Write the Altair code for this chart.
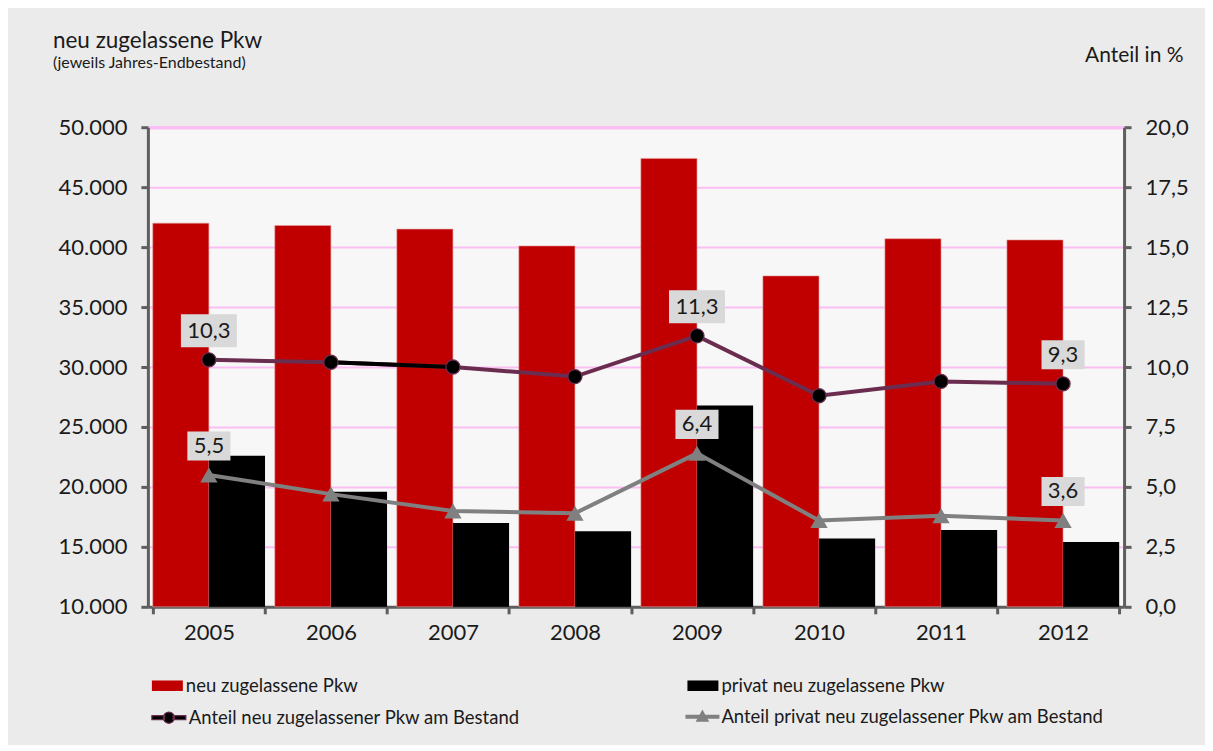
import altair as alt
import pandas as pd

FONT = "Lato"
TXT = "#1a1a1a"

years = ["2005", "2006", "2007", "2008", "2009", "2010", "2011", "2012"]
neu_pkw = [42000, 41800, 41500, 40100, 47400, 37600, 40700, 40600]
privat_pkw = [22600, 19600, 17000, 16300, 26800, 15700, 16400, 15400]
anteil_neu = [10.3, 10.2, 10.0, 9.6, 11.3, 8.8, 9.4, 9.3]
anteil_privat = [5.5, 4.7, 4.0, 3.9, 6.4, 3.6, 3.8, 3.6]
label_years = ["2005", "2009", "2012"]
black_segment_years = ["2006", "2007"]

S1 = "neu zugelassene Pkw"
S2 = "privat neu zugelassene Pkw"
S3 = "Anteil neu zugelassener Pkw am Bestand"
S4 = "Anteil privat neu zugelassener Pkw am Bestand"

bars = pd.DataFrame({
    "year": years * 2,
    "series": [S1] * len(years) + [S2] * len(years),
    "value": neu_pkw + privat_pkw,
})
lines = pd.DataFrame({
    "year": years * 2,
    "series": [S3] * len(years) + [S4] * len(years),
    "value": anteil_neu + anteil_privat,
})

AX_COL = "#5e5e5e"

x_enc = alt.X(
    "year:N",
    scale=alt.Scale(domain=years, paddingInner=0.08, paddingOuter=0.04),
    axis=alt.Axis(
        title=None, labelAngle=0, tickBand="extent", labelFont=FONT,
        labelFontSize=22, labelColor=TXT, labelPadding=9,
        domainColor=AX_COL, domainWidth=3, tickColor=AX_COL, tickWidth=3,
        tickSize=7, grid=False,
    ),
)

y_left = alt.Y(
    "value:Q",
    scale=alt.Scale(domain=[10000, 50000], nice=False, zero=False),
    axis=alt.Axis(
        title=None,
        values=[10000, 15000, 20000, 25000, 30000, 35000, 40000, 45000, 50000],
        labelExpr="replace(format(datum.value, ','), ',', '.')",
        labelFont=FONT, labelFontSize=22, labelColor=TXT, labelPadding=14,
        domainColor=AX_COL, domainWidth=3, tickColor=AX_COL, tickWidth=3,
        tickSize=7, grid=True, gridColor="#fcbff5",
        gridWidth={"condition": {"test": "datum.value == 50000", "value": 3.5}, "value": 2},
    ),
)

y_right = alt.Y(
    "value:Q",
    scale=alt.Scale(domain=[0, 20], nice=False, zero=True),
    axis=alt.Axis(
        orient="right",
        values=[0, 2.5, 5, 7.5, 10, 12.5, 15, 17.5, 20],
        labelExpr="replace(format(datum.value, '.1f'), '.', ',')",
        labelFont=FONT, labelFontSize=22, labelColor=TXT, labelPadding=14,
        domainColor=AX_COL, domainWidth=3, tickColor=AX_COL, tickWidth=3,
        tickSize=7, grid=False,
        title="Anteil in %", titleAngle=0, titleAlign="right",
        titleBaseline="alphabetic", titleX=59, titleY=-66,
        titleFont=FONT, titleFontSize=21, titleFontWeight="normal",
        titleColor=TXT,
    ),
)


def legend(x, y, sym, size, offset=3, stroke=None, sw=0):
    kw = dict(
        title=None, orient="none", legendX=x, legendY=y, symbolType=sym,
        symbolSize=size, labelFont=FONT, labelFontSize=18.5, labelColor=TXT,
        labelOffset=offset, padding=0, labelLimit=600,
        symbolStrokeWidth=sw, symbolOpacity=1,
    )
    if stroke:
        kw["symbolStrokeColor"] = stroke
    return alt.Legend(**kw)


BAR_SYM = "M-1,-0.34H1V0.34H-1Z"
CIRC_SYM = ("M-1,-0.12H-0.25V0.12H-1Z M0.25,-0.12H1V0.12H0.25Z "
            "M-0.33,0A0.33,0.33 0 1,1 0.33,0A0.33,0.33 0 1,1 -0.33,0Z")
TRI_SYM = "M-1,-0.12H1V0.12H-1Z M0,-0.42L0.4,0.3H-0.4Z"

x_off = alt.XOffset("series:N", scale=alt.Scale(domain=[S1, S2], paddingInner=0, paddingOuter=0))

bar_red = alt.Chart(bars).transform_filter(alt.datum.series == S1).mark_bar(
    stroke="#e8a0a0", strokeWidth=0.6).encode(
    x=x_enc, xOffset=x_off, y=y_left, y2=alt.datum(10000),
    color=alt.Color("series:N", scale=alt.Scale(domain=[S1], range=["#c00000"]),
                    legend=legend(4, 543.5, BAR_SYM, 961)),
)
bar_black = alt.Chart(bars).transform_filter(alt.datum.series == S2).mark_bar().encode(
    x=x_enc, xOffset=x_off, y=y_left, y2=alt.datum(10000),
    color=alt.Color("series:N", scale=alt.Scale(domain=[S2], range=["#000000"]),
                    legend=legend(540, 543.5, BAR_SYM, 961)),
)
left = alt.layer(bar_red, bar_black).resolve_scale(color="independent")

PURPLE = "#6b2d4f"
GRAY = "#808080"

base = alt.Chart(lines)
line1 = base.transform_filter(alt.datum.series == S3).mark_line(
    color=PURPLE, strokeWidth=4).encode(x=x_enc, y=y_right)
line1b = base.transform_filter(alt.datum.series == S3).transform_filter(
    alt.FieldOneOfPredicate(field="year", oneOf=black_segment_years)
).mark_line(color="#000000", strokeWidth=4).encode(x=x_enc, y=y_right)
line2 = base.transform_filter(alt.datum.series == S4).mark_line(
    color=GRAY, strokeWidth=4).encode(x=x_enc, y=y_right)

pts1 = base.transform_filter(alt.datum.series == S3).mark_point(
    filled=True, size=200, stroke=PURPLE, strokeWidth=1.2, opacity=1).encode(
    x=x_enc, y=y_right,
    color=alt.Color("series:N", scale=alt.Scale(domain=[S3], range=["#000000"]),
                    legend=legend(3, 573, CIRC_SYM, 1156, offset=2, stroke=PURPLE, sw=1.2)),
)
pts2 = base.transform_filter(alt.datum.series == S4).mark_point(
    filled=True, size=300, shape="triangle-up", opacity=1).encode(
    x=x_enc, y=y_right,
    color=alt.Color("series:N", scale=alt.Scale(domain=[S4], range=[GRAY]),
                    legend=legend(538, 573, TRI_SYM, 1156, offset=2)),
)

lab_base = base.transform_filter(
    alt.FieldOneOfPredicate(field="year", oneOf=label_years)
).transform_calculate(
    lbl="replace(format(datum.value, '.1f'), '.', ',')"
).transform_calculate(
    nc="'' + length(datum.lbl)"
)
BOX3 = "M-0.77,-0.52H0.77V0.52H-0.77Z"
BOX4 = "M-1,-0.59H1V0.59H-1Z"
boxes = lab_base.mark_point(filled=True, size=3136, color="#d9d9d9", opacity=1, yOffset=-29).encode(
    x=x_enc, y=y_right,
    shape=alt.Shape("nc:N", scale=alt.Scale(domain=["3", "4"], range=[BOX3, BOX4]), legend=None),
)
texts = lab_base.mark_text(font=FONT, fontSize=22, color=TXT, dy=-29, baseline="middle").encode(
    x=x_enc, y=y_right, text="lbl:N",
)

right = alt.layer(line1, line1b, line2, pts1, pts2, boxes, texts).resolve_scale(color="independent")

chart = alt.layer(left, right).resolve_scale(
    y="independent", color="independent"
).properties(
    width=977, height=480,
    background="#ebebeb",
    padding={"left": 140, "top": 119, "right": 81, "bottom": 138},
    autosize=alt.AutoSizeParams(type="none"),
    title=alt.TitleParams(
        text="neu zugelassene Pkw", subtitle="(jeweils Jahres-Endbestand)",
        anchor="start", frame="group", dx=-95, dy=31,
        font=FONT, fontSize=22.5, fontWeight="normal", color=TXT,
        subtitleFont=FONT, subtitleFontSize=16, subtitleColor=TXT,
        subtitlePadding=3,
    ),
).configure_view(fill="#f7f7f7", stroke=None)

chart.save("out.html", embed_options={"renderer": "svg", "actions": False})
